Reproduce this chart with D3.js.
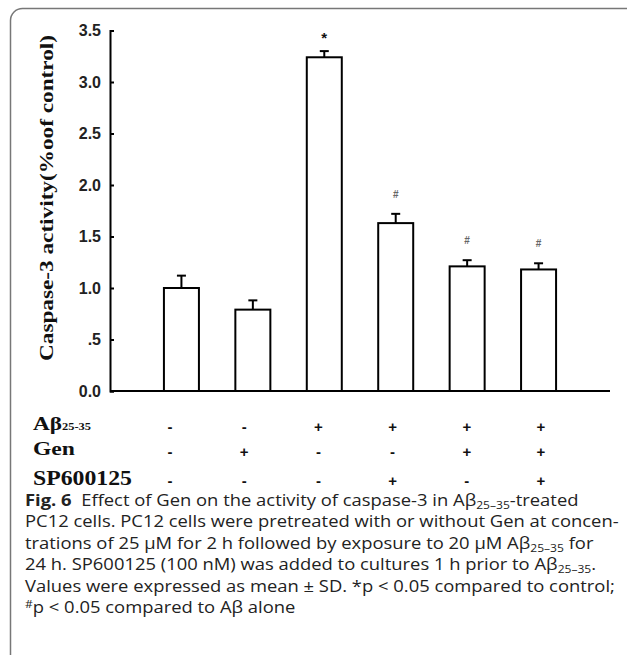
<!DOCTYPE html>
<html>
<head>
<meta charset="utf-8">
<script src="https://cdn.jsdelivr.net/npm/d3@7"></script>
<style>
  body { margin: 0; background: #fff; }
  svg { display: block; }
</style>
</head>
<body>
<svg id="chart" width="627" height="655"></svg>
<script>
// groups, left to right
const groups = ["control", "gen", "ab", "ab_sp", "ab_gen", "ab_gen_sp"];
const means = [1.0, 0.79, 3.24, 1.63, 1.21, 1.18];
const sds = [0.12, 0.09, 0.06, 0.09, 0.06, 0.06];
const marks = ["", "", "*", "#", "#", "#"];

const yTicks = [0, 0.5, 1, 1.5, 2, 2.5, 3, 3.5];
const yTickLabels = ["0.0", ".5", "1.0", "1.5", "2.0", "2.5", "3.0", "3.5"];

// treatment table under the bars
const abRow = ["-", "-", "+", "+", "+", "+"];
const genRow = ["-", "+", "-", "-", "+", "+"];
const spRow = ["-", "-", "-", "+", "-", "+"];

const svg = d3.select("#chart");

// frame round the figure
svg.append("rect")
  .attr("x", 10.5).attr("y", 8.5)
  .attr("width", 640).attr("height", 660)
  .attr("rx", 12)
  .attr("fill", "none")
  .attr("stroke", "#777")
  .attr("stroke-width", 1.5);

const x = d3.scalePoint().domain(groups).range([110, 610]).padding(1);
const y = d3.scaleLinear().domain([0, 3.5]).range([391, 30.5]);
const barW = 35;

const data = groups.map((g, i) => ({ g: g, m: means[i], sd: sds[i], mark: marks[i] }));

// y axis
const yAxis = svg.append("g")
  .attr("transform", "translate(110,0)")
  .call(d3.axisLeft(y)
    .tickValues(yTicks)
    .tickSize(-4)
    .tickPadding(9)
    .tickFormat((d, i) => yTickLabels[i]));
yAxis.select(".domain").attr("stroke-width", 2);
yAxis.selectAll(".tick line").attr("stroke-width", 2);
yAxis.selectAll(".tick text")
  .attr("font-family", "Liberation Sans, Arial, sans-serif")
  .attr("font-weight", "bold")
  .attr("font-size", 16)
  .attr("fill", "#222");

// x axis line
svg.append("line")
  .attr("x1", x.range()[0]).attr("x2", x.range()[1])
  .attr("y1", y(0)).attr("y2", y(0))
  .attr("stroke", "#000").attr("stroke-width", 2);

// bars
svg.append("g").selectAll("rect")
  .data(data)
  .join("rect")
  .attr("x", d => x(d.g) - barW / 2)
  .attr("y", d => y(d.m))
  .attr("width", barW)
  .attr("height", d => y(0) - y(d.m))
  .attr("fill", "#fff")
  .attr("stroke", "#000")
  .attr("stroke-width", 2);

// error bars (upper only)
const err = svg.append("g").attr("stroke", "#000").attr("stroke-width", 2);
err.selectAll("line.v")
  .data(data)
  .join("line")
  .attr("class", "v")
  .attr("x1", d => x(d.g)).attr("x2", d => x(d.g))
  .attr("y1", d => y(d.m)).attr("y2", d => y(d.m + d.sd));
err.selectAll("line.c")
  .data(data)
  .join("line")
  .attr("class", "c")
  .attr("x1", d => x(d.g) - 4.5).attr("x2", d => x(d.g) + 4.5)
  .attr("y1", d => y(d.m + d.sd)).attr("y2", d => y(d.m + d.sd));

// significance marks
svg.append("g").selectAll("text")
  .data(data.filter(d => d.mark))
  .join("text")
  .attr("x", d => x(d.g))
  .attr("y", d => y(d.m + d.sd) - (d.mark === "*" ? 8 : 16))
  .attr("text-anchor", "middle")
  .attr("font-family", "Liberation Sans, Arial, sans-serif")
  .attr("font-weight", "bold")
  .attr("font-size", d => d.mark === "*" ? 15 : 10)
  .attr("fill", d => d.mark === "*" ? "#111" : "#666")
  .text(d => d.mark);

// y axis title
svg.append("text")
  .attr("transform", "translate(53,198) rotate(-90)")
  .attr("text-anchor", "middle")
  .attr("font-family", "Liberation Serif, Times New Roman, serif")
  .attr("font-weight", "bold")
  .attr("font-size", 19)
  .attr("textLength", 326)
  .attr("lengthAdjust", "spacingAndGlyphs")
  .attr("fill", "#111")
  .text("Caspase-3 activity(%oof control)");

// treatment table
const tx = d3.scalePoint().domain(groups).range([170, 541]);
const rows = [
  { vals: abRow, base: 432 },
  { vals: genRow, base: 457 },
  { vals: spRow, base: 486 }
];
const serif = "Liberation Serif, Times New Roman, serif";

const ab = svg.append("text")
  .attr("x", 33).attr("y", 430)
  .attr("font-family", serif).attr("font-weight", "bold").attr("fill", "#111");
ab.append("tspan").attr("font-size", 18).attr("textLength", 29).attr("lengthAdjust", "spacingAndGlyphs").text("Aβ");
ab.append("tspan").attr("font-size", 11).attr("textLength", 29).attr("lengthAdjust", "spacingAndGlyphs").text("25-35");

svg.append("text")
  .attr("x", 33).attr("y", 455)
  .attr("font-family", serif).attr("font-weight", "bold").attr("fill", "#111")
  .attr("font-size", 19).attr("textLength", 42).attr("lengthAdjust", "spacingAndGlyphs")
  .text("Gen");

svg.append("text")
  .attr("x", 33).attr("y", 485)
  .attr("font-family", serif).attr("font-weight", "bold").attr("fill", "#111")
  .attr("font-size", 21).attr("textLength", 99).attr("lengthAdjust", "spacingAndGlyphs")
  .text("SP600125");

rows.forEach(r => {
  svg.append("g").selectAll("text")
    .data(r.vals)
    .join("text")
    .attr("x", (d, i) => tx(groups[i]))
    .attr("y", r.base)
    .attr("text-anchor", "middle")
    .attr("font-family", "Liberation Sans, Arial, sans-serif")
    .attr("font-weight", "bold")
    .attr("font-size", 15)
    .attr("fill", "#111")
    .text(d => d);
});

// caption (the figure is a little stretched sideways, so stretch the text too)
const sub = "25–35";
const captionLines = [
  [["Fig. 6", "b"], ["  Effect of Gen on the activity of caspase-3 in Aβ"], [sub, "sub"], ["-treated"]],
  [["PC12 cells. PC12 cells were pretreated with or without Gen at concen-"]],
  [["trations of 25 μM for 2 h followed by exposure to 20 μM Aβ"], [sub, "sub"], [" for"]],
  [["24 h. SP600125 (100 nM) was added to cultures 1 h prior to Aβ"], [sub, "sub"], ["."]],
  [["Values were expressed as mean ± SD. *p < 0.05 compared to control;"]],
  [["#", "sup"], ["p < 0.05 compared to Aβ alone"]]
];
const capScale = 1.15;

const cap = svg.append("g")
  .attr("transform", `scale(${capScale},1)`)
  .attr("font-family", "Open Sans, Noto Sans, sans-serif")
  .attr("font-size", 16)
  .attr("fill", "#222");

captionLines.forEach((line, li) => {
  const t = cap.append("text")
    .attr("x", 25 / capScale)
    .attr("y", 506 + li * 21.5)
    .style("white-space", "pre");
  line.forEach(seg => {
    const s = t.append("tspan").text(seg[0]);
    if (seg[1] === "b") s.attr("font-weight", "bold");
    if (seg[1] === "sub") s.attr("font-size", 10.5).attr("dy", 3);
    if (seg[1] === "sup") s.attr("font-size", 10.5).attr("dy", -5);
  });
  // put the baseline back after sub/superscripts
  t.selectAll("tspan").each(function (d, i, nodes) {
    const prev = i > 0 ? nodes[i - 1].getAttribute("dy") : null;
    if (prev && !this.getAttribute("dy")) d3.select(this).attr("dy", -(+prev));
  });
});
</script>
</body>
</html>
